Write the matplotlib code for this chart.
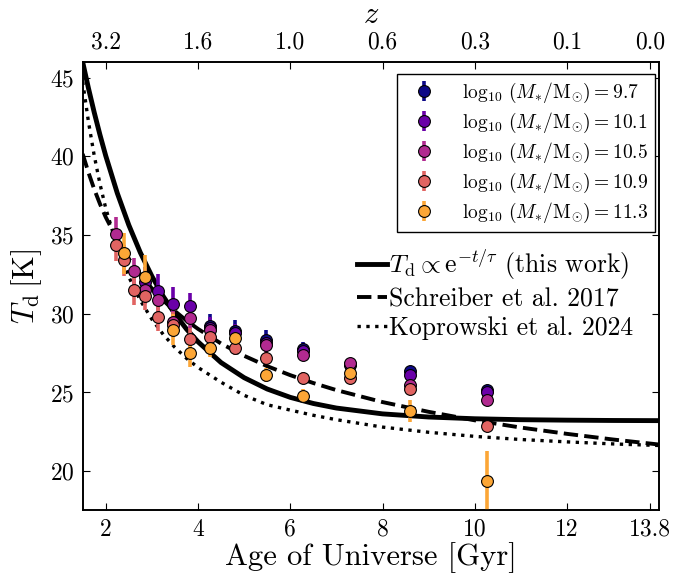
import matplotlib
matplotlib.use("Agg")
import matplotlib.pyplot as plt
import numpy as np

plt.rcParams["font.family"] = "serif"
plt.rcParams["font.serif"] = ["cmr10"]
plt.rcParams["mathtext.fontset"] = "cm"
plt.rcParams["axes.formatter.use_mathtext"] = True

# stellar mass bins
mass_labels = ["9.7", "10.1", "10.5", "10.9", "11.3"]

age_97 = [4.27, 4.80, 5.47, 6.28, 7.29, 8.59, 10.27]
td_97 = [29.25, 28.9, 28.35, 27.75, 26.8, 26.35, 25.15]
err_97 = [0.75, 0.7, 0.6, 0.45, 0.4, 0.35, 0.35]

age_101 = [2.85, 3.13, 3.45, 3.83, 4.27, 4.80, 5.47, 6.28, 7.29, 8.59, 10.27]
td_101 = [32.0, 31.45, 30.6, 30.5, 29.1, 28.75, 28.15, 27.65, 26.75, 26.1, 25.05]
err_101 = [1.0, 1.05, 1.1, 0.8, 0.7, 0.6, 0.55, 0.4, 0.35, 0.3, 0.3]

age_105 = [2.22, 2.61, 2.85, 3.13, 3.45, 3.83, 4.27, 5.47, 6.28, 7.29, 8.59, 10.27]
td_105 = [35.1, 32.7, 31.5, 30.85, 29.45, 29.75, 28.95, 28.0, 27.35, 26.85, 25.5, 24.5]
err_105 = [1.05, 0.85, 0.9, 0.9, 0.8, 0.7, 0.5, 0.45, 0.35, 0.3, 0.3, 0.3]

age_109 = [2.22, 2.40, 2.61, 2.85, 3.13, 3.45, 3.83, 4.27, 4.80, 5.47, 6.28, 7.29, 8.59, 10.27]
td_109 = [34.4, 33.4, 31.5, 31.15, 29.8, 29.3, 28.4, 28.55, 27.8, 27.2, 25.95, 25.95, 25.2, 22.85]
err_109 = [1.05, 1.0, 0.95, 0.9, 0.9, 0.8, 0.7, 0.55, 0.45, 0.4, 0.35, 0.3, 0.35, 0.3]

age_113 = [2.40, 2.85, 3.45, 3.83, 4.27, 4.80, 5.47, 6.28, 7.29, 8.59, 10.27]
td_113 = [33.85, 32.35, 29.0, 27.5, 27.85, 28.45, 26.1, 24.8, 26.25, 23.85, 19.4]
err_113 = [1.3, 1.4, 1.0, 0.85, 0.6, 0.5, 0.45, 0.4, 0.35, 0.7, 1.9]

# model curves
curve_age = [1.5, 1.625, 1.75, 1.875, 2.0, 2.25, 2.5, 2.75, 3.0, 3.25, 3.5, 3.75,
             4.0, 4.5, 5.0, 5.5, 6.0, 6.5, 7.0, 8.0, 9.0, 10.0, 11.0, 12.0, 13.0, 14.0]
this_work = [46.0, 44.34, 42.8, 41.37, 40.04, 37.67, 35.64, 33.89, 32.39, 31.09, 29.99, 29.03,
             28.22, 26.9, 25.94, 25.22, 24.69, 24.3, 24.01, 23.64, 23.44, 23.33, 23.27, 23.24, 23.22, 23.21]
schreiber = [40.16, 38.98, 37.92, 36.98, 36.14, 34.71, 33.5, 32.49, 31.61, 30.84, 30.17, 29.57,
             29.04, 28.11, 27.33, 26.67, 26.1, 25.6, 25.15, 24.39, 23.77, 23.23, 22.77, 22.37, 22.01, 21.69]
koprowski = [44.75, 42.21, 40.06, 38.25, 36.71, 34.24, 32.34, 30.85, 29.65, 28.67, 27.86, 27.17,
             26.59, 25.65, 24.82, 24.22, 23.88, 23.55, 23.27, 22.8, 22.47, 22.21, 22.01, 21.86, 21.73, 21.63]

age_ticks = [2, 4, 6, 8, 10, 12, 13.8]
age_ticklabels = ["2", "4", "6", "8", "10", "12", "13.8"]
z_ticklabels = ["3.2", "1.6", "1.0", "0.6", "0.3", "0.1", "0.0"]

series = [
    (age_97, td_97, err_97),
    (age_101, td_101, err_101),
    (age_105, td_105, err_105),
    (age_109, td_109, err_109),
    (age_113, td_113, err_113),
]
colors = plt.cm.plasma(np.linspace(0, 0.8, len(series)))

fig = plt.figure(figsize=(6.76, 5.78), dpi=100)
ax = fig.add_axes([0.1223, 0.1168, 0.853, 0.7759])

l1, = ax.plot(curve_age, this_work, "k-", lw=3.5, zorder=2)
l2, = ax.plot(curve_age, schreiber, "k--", lw=2.8, zorder=2)
l3, = ax.plot(curve_age, koprowski, "k:", lw=2.4, zorder=2)

handles = []
for (age, td, err), c, m in zip(series, colors, mass_labels):
    h = ax.errorbar(age, td, yerr=err, fmt="o", color=c, ecolor=c,
                    elinewidth=2.6, capsize=0, ms=8.5, mec="k", mew=0.8,
                    zorder=3,
                    label=r"$\log_{10}\,(M_{*}/\mathrm{M}_{\odot})=" + m + "$")
    handles.append(h)

ax.set_xlim(1.5, 14)
ax.set_ylim(17.5, 46)
ax.set_xticks(age_ticks)
ax.set_xticklabels(age_ticklabels)
ax.set_yticks([20, 25, 30, 35, 40, 45])
ax.tick_params(direction="in", labelsize=17, length=5, right=True, pad=6)
ax.set_xlabel("Age of Universe [Gyr]", fontsize=22, labelpad=1)
ax.set_ylabel(r"$T_\mathrm{d}\,[\mathrm{K}]$", fontsize=22, labelpad=4)

ax_top = ax.twiny()
ax_top.set_xlim(ax.get_xlim())
ax_top.set_xticks(age_ticks)
ax_top.set_xticklabels(z_ticklabels)
ax_top.tick_params(direction="in", labelsize=17, length=5, pad=6)
ax_top.set_xlabel(r"$z$", fontsize=22, labelpad=6)

leg1 = ax.legend(handles=handles, loc="upper right", bbox_to_anchor=(0.9934, 0.9732),
                 borderaxespad=0, fontsize=14, frameon=True, fancybox=False,
                 edgecolor="k", framealpha=1, labelspacing=0.3, handletextpad=1.0,
                 borderpad=0.35)
leg1.get_frame().set_linewidth(1.0)
ax.add_artist(leg1)

ax.legend([l1, l2, l3],
          [r"$T_\mathrm{d} \propto \mathrm{e}^{-t/\tau}$ (this work)",
           "Schreiber et al. 2017", "Koprowski et al. 2024"],
          loc="upper left", bbox_to_anchor=(0.4757, 0.585), borderaxespad=0,
          borderpad=0, frameon=False, fontsize=18.5, handlelength=1.15,
          handletextpad=0.1, labelspacing=0.2)

for a in (ax, ax_top):
    for s in a.spines.values():
        s.set_linewidth(1.2)

fig.savefig("out.png", dpi=100)
